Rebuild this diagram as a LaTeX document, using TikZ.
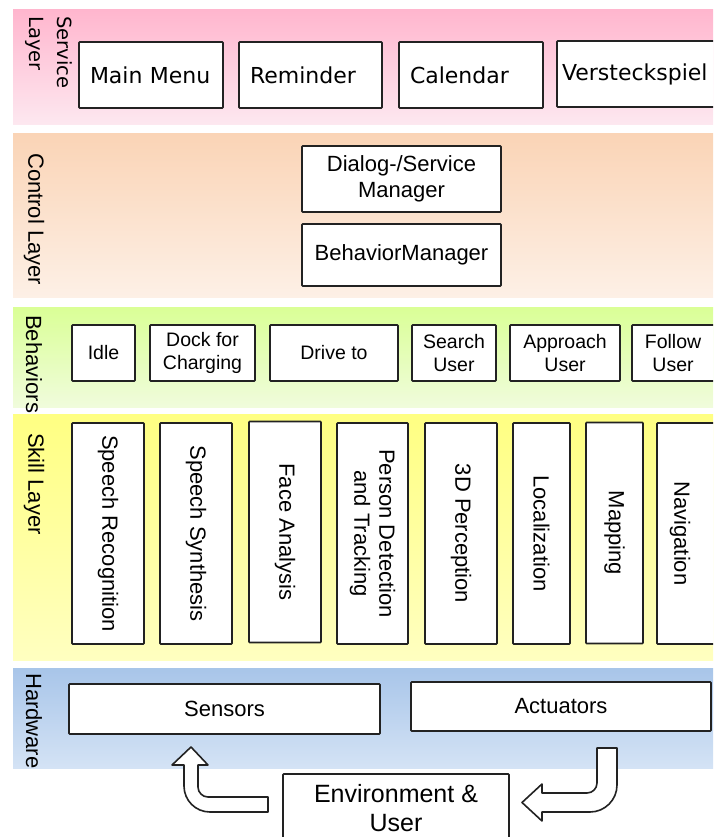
\documentclass[tikz,border=0pt]{standalone}
\usepackage{fontspec}
\setmainfont{Liberation Sans}
\newfontfamily\dejavu{DejaVu Sans}

\definecolor{svcTop}{RGB}{255,182,206}
\definecolor{svcBot}{RGB}{253,232,240}
\definecolor{ctlTop}{RGB}{250,212,182}
\definecolor{ctlBot}{RGB}{253,240,230}
\definecolor{behTop}{RGB}{218,255,150}
\definecolor{behBot}{RGB}{240,252,220}
\definecolor{sklTop}{RGB}{255,255,130}
\definecolor{sklBot}{RGB}{255,255,192}
\definecolor{hwTop}{RGB}{168,197,233}
\definecolor{hwBot}{RGB}{212,227,245}
\definecolor{edge}{RGB}{34,34,34}

\tikzset{
  box/.style={draw=edge, line width=1.6pt, fill=white, rounded corners=0.8pt,
              inner sep=0pt, align=center},
  svcbox/.style={box, minimum height=66pt, align=left, inner xsep=11pt,
                 font=\dejavu\fontsize{22}{26}\selectfont},
  ctlbox/.style={box, minimum width=199pt, font=\fontsize{22}{26}\selectfont},
  behbox/.style={box, minimum height=56pt, font=\fontsize{19.5}{23}\selectfont},
  behword/.style={inner sep=0pt, align=center, font=\fontsize{19.5}{23}\selectfont},
  sklbox/.style={box, rotate=-90, minimum width=221pt, font=\fontsize{22}{25}\selectfont},
  sklword/.style={rotate=-90, inner sep=0pt, font=\fontsize{22}{25}\selectfont},
  hwbox/.style={box, font=\fontsize{22}{26}\selectfont},
  layername/.style={rotate=-90, anchor=west, inner sep=0pt, align=left,
                    font=\fontsize{22}{26}\selectfont},
  blockarrow/.style={draw=edge, line width=1.6pt, fill=white, line join=round}
}

\begin{document}
\begin{tikzpicture}[x=1pt, y=-1pt]
  \useasboundingbox (0,0) rectangle (713,837);
  \clip (0,0) rectangle (713,837);

  % ---------- Service layer ----------
  \shade[top color=svcTop, bottom color=svcBot] (13,10) rectangle (713,125);
  \node[layername, font=\dejavu\fontsize{19.5}{28.5}\selectfont] (svcname) at (49,16) {Service\\Layer};
  \node[svcbox, text width=122pt] (menu) at (151,75) {Main Menu};
  \node[svcbox, text width=121pt] (remind) at (310.5,75) {Reminder};
  \node[svcbox, text width=122pt] (cal) at (471,75) {Calendar};
  \node[svcbox, inner xsep=5pt, text width=162pt] (game) at (643,74) {Versteckspiel};

  % ---------- Control layer ----------
  \shade[top color=ctlTop, bottom color=ctlBot] (13,134) rectangle (713,297);
  \node[layername] (ctlname) at (34,153) {Control Layer};
  \node[ctlbox, minimum height=66pt] (dsm) at (401.5,179) {Dialog-/Service\\Manager};
  \node[ctlbox, minimum height=62pt] (bm) at (401.5,255) {BehaviorManager};

  % ---------- Behaviors ----------
  \shade[top color=behTop, bottom color=behBot] (13,307) rectangle (713,407);
  \node[layername] (behname) at (34,315) {Behaviors};
  \node[behbox, minimum width=63pt] (idle) at (103.5,353) {Idle};
  \node[behbox, minimum width=105pt] (dock) at (202.5,353) {Dock for\\Charging};
  \node[behbox, minimum width=128pt] (drive) at (334,353) {Drive to};
  \node[behbox, minimum width=84pt] (search) at (454,353) {Search\\User};
  \node[behbox, minimum width=110pt] (approach) at (565,353) {Approach\\User};
  \node[behbox, minimum width=96pt] (follow) at (680,353) {};
  \node[behword] (followword) at (673,353) {Follow\\User};

  % ---------- Skill layer ----------
  \shade[top color=sklTop, bottom color=sklBot] (13,414) rectangle (713,660);
  \node[layername] (sklname) at (34,433) {Skill Layer};
  \node[sklbox, minimum height=72pt] (sr) at (108,533.5) {Speech Recognition};
  \node[sklbox, minimum height=72pt] (ss) at (196,533.5) {Speech Synthesis};
  \node[sklbox, minimum height=72pt] (fa) at (285,532) {Face Analysis};
  \node[sklbox, minimum height=71pt] (pdt) at (372.5,533.5) {Person Detection\\and Tracking};
  \node[sklbox, minimum height=72pt] (pc) at (461,533.5) {3D Perception};
  \node[sklbox, minimum height=57pt] (loc) at (541.5,533.5) {Localization};
  \node[sklbox, minimum height=57pt] (map) at (614.5,533) {Mapping};
  \node[sklbox, minimum height=70pt] (nav) at (692,533.5) {};
  \node[sklword] (navword) at (680,533.5) {Navigation};

  % ---------- Hardware ----------
  \shade[top color=hwTop, bottom color=hwBot] (13,668) rectangle (713,768);
  \node[layername] (hwname) at (34,673) {Hardware};
  \node[hwbox, minimum width=311pt, minimum height=50pt] (sensors) at (224.5,709) {Sensors};
  \node[hwbox, minimum width=300pt, minimum height=49pt] (act) at (561,706.5) {Actuators};

  % ---------- Environment and feedback arrows ----------
  \node[box, minimum width=226pt, minimum height=69pt, font=\fontsize{25}{29}\selectfont]
       (env) at (396,808.5) {Environment \&\\User};

  % environment -> sensors
  \draw[blockarrow] (268,797) -- (208,797)
        .. controls (202.5,797) and (198,792.5) .. (198,787)
        -- (198,765) -- (208,765) -- (191,747) -- (172,765) -- (184,765)
        -- (184,786) .. controls (184,800.4) and (195.6,812) .. (210,812)
        -- (268,812) -- cycle;

  % actuators -> environment
  \draw[blockarrow] (597,748) -- (617,748) -- (617,785)
        .. controls (617,799.9) and (604.9,812) .. (590,812)
        -- (542,812) -- (542,821) -- (522,802.5) -- (542,784) -- (542,793)
        -- (587,793) .. controls (592.5,793) and (597,788.5) .. (597,783)
        -- cycle;
\end{tikzpicture}
\end{document}
